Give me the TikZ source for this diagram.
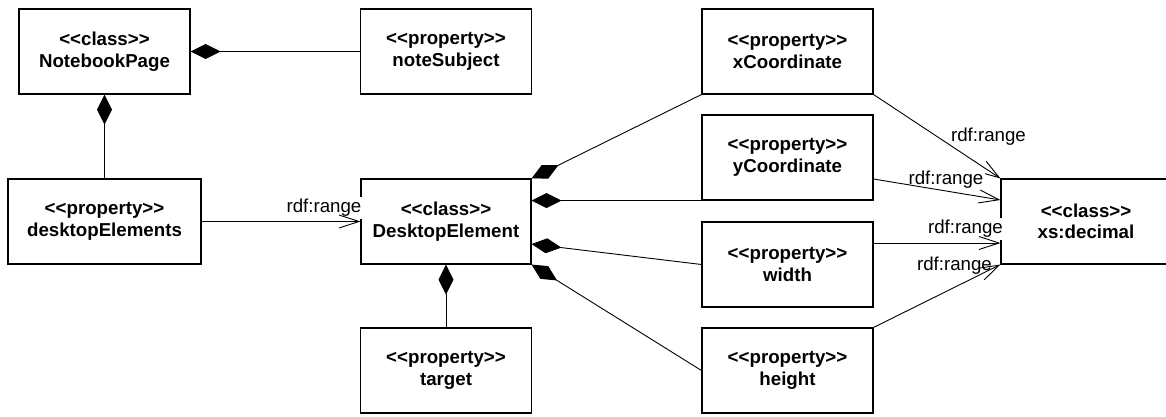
\documentclass[tikz,border=0pt]{standalone}
\usepackage{fontspec}
\setmainfont{Liberation Sans}
\usetikzlibrary{arrows.meta}
% stereotype text, written so that << and >> stay plain angle brackets
\newcommand{\stereo}[1]{<{}<#1>{}>}
\tikzset{
  umlbox/.style={draw, line width=1.1pt, fill=white, minimum width=171pt, minimum height=85pt,
    inner sep=0pt, align=center, font=\bfseries\fontsize{18.7}{21.5}\selectfont},
  conn/.style={line width=0.9pt},
  comp/.style={conn, {Diamond[length=30pt,width=15pt]}-},
  rangearrow/.style={conn, -{Straight Barb[length=20pt,width=13pt]}},
  rlbl/.style={fill=white, inner sep=2pt, behind path, font=\fontsize{18.7}{21.5}\selectfont}
}
\begin{document}
\begin{tikzpicture}[x=1pt,y=-1pt]
\useasboundingbox (0,0) rectangle (1166,417);

% classes and properties
\node[umlbox] (np) at (104.5,51.5) {\stereo{class}\\NotebookPage};
\node[umlbox] (ns) at (446,51.5) {\stereo{property}\\noteSubject};
\node[umlbox] (xc) at (787.5,51.5) {\stereo{property}\\xCoordinate};
\node[umlbox] (yc) at (787.5,157.5) {\stereo{property}\\yCoordinate};
\node[umlbox, minimum width=193pt] (de) at (104.5,221.5) {\stereo{property}\\desktopElements};
\node[umlbox, minimum width=170pt] (DE) at (446,221.5) {\stereo{class}\\DesktopElement};
\node[umlbox] (wd) at (787.5,264.5) {\stereo{property}\\width};
\node[umlbox] (tg) at (446,370.5) {\stereo{property}\\target};
\node[umlbox] (ht) at (787.5,370.5) {\stereo{property}\\height};
\node[umlbox, minimum width=170pt] (xs) at (1086,221.5) {\stereo{class}\\xs:decimal};

% composition links
\draw[comp] (np.east) -- (ns.west);
\draw[comp] (np.south) -- (de.north);
\draw[comp] (DE.south) -- (tg.north);
\draw[comp] (DE.north east) -- (xc.south west);
\draw[comp] (DE.east |- yc.south) -- (yc.south west);
\draw[comp] ([yshift=-22.5pt]DE.east) -- (wd.west);
\draw[comp] (DE.south east) -- (ht.west);

% rdf:range links
\draw[rangearrow] (de.east) -- (DE.west)
  node[rlbl, pos=1, xshift=-36.5pt, yshift=13.5pt] {rdf:range};
\draw[rangearrow] (xc.south east) -- (xs.north west)
  node[rlbl, pos=1, xshift=-12pt, yshift=42pt] {rdf:range};
\draw[rangearrow] ([yshift=-21.5pt]yc.east) -- ([yshift=21.5pt]xs.west)
  node[rlbl, pos=1, xshift=-54.5pt, yshift=20pt] {rdf:range};
\draw[rangearrow] ([yshift=21.5pt]wd.east) -- ([yshift=-21.5pt]xs.west)
  node[rlbl, pos=1, xshift=-35pt, yshift=14pt] {rdf:range};
\draw[rangearrow] (ht.north east) -- (xs.south west)
  node[rlbl, pos=1, xshift=-46pt, yshift=-1pt] {rdf:range};
\end{tikzpicture}
\end{document}
